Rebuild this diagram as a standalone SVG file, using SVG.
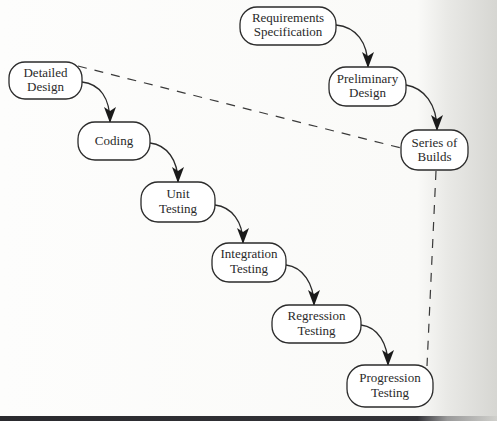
<svg xmlns="http://www.w3.org/2000/svg" width="497" height="421" viewBox="0 0 497 421">
  <defs>
    <linearGradient id="page" x1="0" y1="0" x2="1" y2="0">
      <stop offset="0" stop-color="#fdfdfc"/>
      <stop offset="0.84" stop-color="#fafaf8"/>
      <stop offset="0.9" stop-color="#e9e9e6"/>
      <stop offset="1" stop-color="#d6d6d2"/>
    </linearGradient>
    <linearGradient id="rule" x1="0" y1="0" x2="1" y2="0">
      <stop offset="0" stop-color="#2a2a2e"/>
      <stop offset="0.84" stop-color="#333338"/>
      <stop offset="0.9" stop-color="#9a9a9a"/>
      <stop offset="1" stop-color="#d0d0cc"/>
    </linearGradient>
    <marker id="head" viewBox="0 0 16 12" refX="15" refY="6" markerWidth="16" markerHeight="12" markerUnits="userSpaceOnUse" orient="auto">
      <path d="M0,0 L16,6 L0,12 L4,6 Z" fill="#1a1a1a"/>
    </marker>
    <style>
      .node rect { fill: #ffffff; stroke: #2b2b2b; stroke-width: 1.3; }
      .node text { font-family: "Liberation Serif", "DejaVu Serif", serif; font-size: 13px; fill: #2a2a2a; text-anchor: middle; }
      .flow { fill: none; stroke: #2b2b2b; stroke-width: 1.3; marker-end: url(#head); }
      .dash { fill: none; stroke: #3a3a3a; stroke-width: 1.2; stroke-dasharray: 9 8; }
    </style>
  </defs>

  <rect x="0" y="0" width="497" height="421" fill="url(#page)"/>
  <rect x="0" y="416" width="497" height="5" fill="url(#rule)"/>

  <g id="connectors">
    <path class="dash" d="M78,66 L401,148"/>
    <path class="dash" d="M436,171 L427,366"/>
    <path class="flow" d="M336,25 C356,27 368,42 368,67"/>
    <path class="flow" d="M406,85 C424,88 437,104 437,130"/>
    <path class="flow" d="M82,82 C100,84 110,98 110,122"/>
    <path class="flow" d="M150,143 C167,145 178,160 178,182"/>
    <path class="flow" d="M215,205 C232,207 243,222 243,243"/>
    <path class="flow" d="M286,265 C303,267 314,284 314,305"/>
    <path class="flow" d="M361,325 C378,327 388,344 388,365"/>
  </g>

  <g id="requirements-specification" class="node">
    <rect x="240" y="7" width="96" height="38" rx="17"/>
    <text x="288" y="22">Requirements</text>
    <text x="288" y="36">Specification</text>
  </g>
  <g id="preliminary-design" class="node">
    <rect x="329" y="67" width="77" height="39" rx="17"/>
    <text x="367.5" y="83">Preliminary</text>
    <text x="367.5" y="97">Design</text>
  </g>
  <g id="series-of-builds" class="node">
    <rect x="401" y="130" width="67" height="40" rx="17"/>
    <text x="434.5" y="147">Series of</text>
    <text x="434.5" y="161">Builds</text>
  </g>
  <g id="detailed-design" class="node">
    <rect x="9" y="62" width="73" height="37" rx="16"/>
    <text x="45.5" y="77">Detailed</text>
    <text x="45.5" y="91">Design</text>
  </g>
  <g id="coding" class="node">
    <rect x="78" y="122" width="72" height="38" rx="17"/>
    <text x="114" y="145">Coding</text>
  </g>
  <g id="unit-testing" class="node">
    <rect x="141" y="182" width="74" height="40" rx="17"/>
    <text x="178" y="198">Unit</text>
    <text x="178" y="213">Testing</text>
  </g>
  <g id="integration-testing" class="node">
    <rect x="212" y="243" width="74" height="39" rx="17"/>
    <text x="249" y="258">Integration</text>
    <text x="249" y="273">Testing</text>
  </g>
  <g id="regression-testing" class="node">
    <rect x="272" y="305" width="89" height="38" rx="17"/>
    <text x="316.5" y="320">Regression</text>
    <text x="316.5" y="335">Testing</text>
  </g>
  <g id="progression-testing" class="node">
    <rect x="347" y="365" width="86" height="42" rx="18"/>
    <text x="390" y="382">Progression</text>
    <text x="390" y="397">Testing</text>
  </g>
</svg>
